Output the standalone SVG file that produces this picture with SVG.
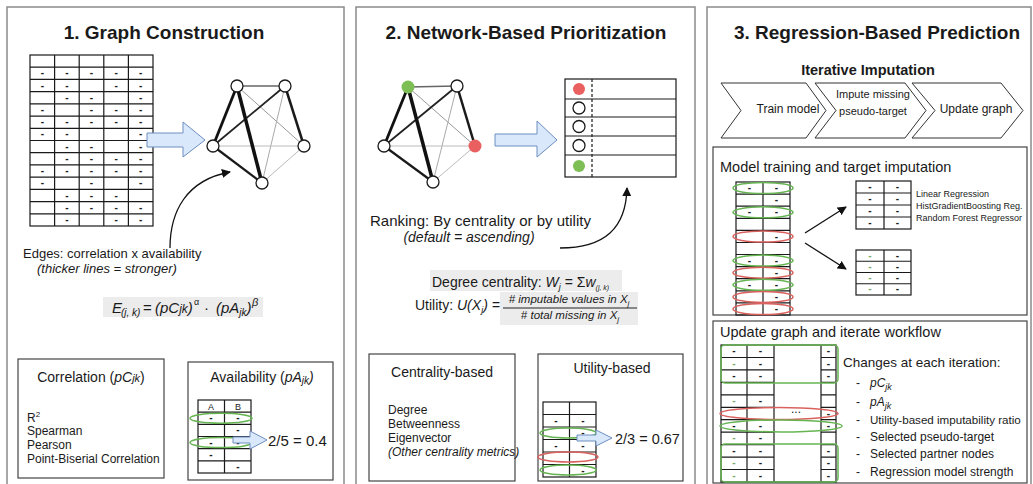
<svg xmlns="http://www.w3.org/2000/svg" width="1033" height="484" viewBox="0 0 1033 484">
<defs>
<style>
text{font-family:"Liberation Sans",Arial,Helvetica,sans-serif;fill:#1a1a1a}
.ttl{font-size:19px;font-weight:bold;text-anchor:middle}
.d{font-size:10px;font-weight:bold;text-anchor:middle}
.dg{font-size:10px;font-weight:bold;text-anchor:middle;fill:#7aaa6a}
.i{font-style:italic}
.tbl{fill:none;stroke:#1a1a1a;stroke-width:1.2}
.node{fill:#fff;stroke:#1a1a1a;stroke-width:1.3}
.frame{fill:none;stroke:#8a8a8a;stroke-width:1.5}
.box{fill:none;stroke:#444;stroke-width:1.2}
.blk{fill:#dae8fc;stroke:#6c8ebf;stroke-width:1}
.eg{fill:none;stroke:#66b552;stroke-width:1.5}
.er{fill:none;stroke:#d9625f;stroke-width:1.5}
.bg{fill:#ececec}
.cur{fill:none;stroke:#111;stroke-width:1.3}
.chev{fill:#fff;stroke:#333;stroke-width:1}
</style>
<marker id="ah" viewBox="0 0 10 10" refX="9" refY="5" markerWidth="9" markerHeight="9" markerUnits="userSpaceOnUse" orient="auto">
<path d="M0,0 L10,5 L0,10 z" fill="#111"/>
</marker>
</defs>
<rect width="1033" height="484" fill="#fff"/>

<!-- Panel 1 -->
<g id="panel1">
<rect class="frame" x="7" y="7" width="337" height="490"/>
<text class="ttl" x="164" y="39">1. Graph Construction</text>

<g id="p1-data-table">
<rect class="tbl" x="30" y="55" width="123" height="171"/>
<path class="tbl" d="M54.6,55V226M79.2,55V226M103.8,55V226M128.4,55V226M30,67.2H153M30,79.4H153M30,91.6H153M30,103.9H153M30,116.1H153M30,128.3H153M30,140.5H153M30,152.7H153M30,164.9H153M30,177.1H153M30,189.4H153M30,201.6H153M30,213.8H153"/>
<text class="d" x="42.3 66.9 91.5 116.1 140.7" y="76.3">-----</text>
<text class="d" x="42.3 66.9 116.1 140.7" y="88.5">----</text>
<text class="d" x="66.9 91.5 140.7" y="100.7">---</text>
<text class="d" x="42.3 91.5 116.1 140.7" y="113">----</text>
<text class="d" x="42.3 66.9 91.5 116.1 140.7" y="125.2">-----</text>
<text class="d" x="42.3 66.9 140.7" y="137.4">---</text>
<text class="d" x="66.9 91.5 140.7" y="149.6">---</text>
<text class="d" x="66.9 91.5 116.1 140.7" y="161.8">----</text>
<text class="d" x="42.3 66.9 91.5 116.1 140.7" y="174">-----</text>
<text class="d" x="42.3 91.5 140.7" y="186.3">---</text>
<text class="d" x="66.9 91.5 116.1" y="198.5">---</text>
<text class="d" x="66.9 91.5 116.1 140.7" y="210.7">----</text>
<text class="d" x="66.9 116.1 140.7" y="222.9">---</text>
</g>

<g id="p1-graph-edges">
<line x1="237" y1="86" x2="285" y2="86" stroke="#666" stroke-width="1.6"/>
<line x1="237" y1="86" x2="304" y2="146" stroke="#999" stroke-width="1"/>
<line x1="285" y1="86" x2="262" y2="183" stroke="#aaa" stroke-width="1"/>
<line x1="213" y1="146" x2="304" y2="146" stroke="#bbb" stroke-width="1"/>
<line x1="262" y1="183" x2="304" y2="146" stroke="#bbb" stroke-width="1"/>
<line x1="285" y1="86" x2="213" y2="146" stroke="#222" stroke-width="1.8"/>
<line x1="285" y1="86" x2="304" y2="146" stroke="#1a1a1a" stroke-width="2.5"/>
<line x1="213" y1="146" x2="262" y2="183" stroke="#1a1a1a" stroke-width="2.2"/>
<line x1="237" y1="86" x2="213" y2="146" stroke="#111" stroke-width="2.8"/>
<line x1="237" y1="86" x2="262" y2="183" stroke="#111" stroke-width="3.5"/>
</g>
<g id="p1-n1"><circle class="node" cx="237" cy="86" r="6"/></g>
<g id="p1-n2"><circle class="node" cx="285" cy="86" r="6"/></g>
<g id="p1-n3"><circle class="node" cx="213" cy="146" r="6"/></g>
<g id="p1-n4"><circle class="node" cx="304" cy="146" r="6"/></g>
<g id="p1-n5"><circle class="node" cx="262" cy="183" r="6"/></g>

<g id="p1-edges-text">
<text x="23" y="258" font-size="13">Edges: correlation x availability</text>
<text class="i" x="37" y="273" font-size="13">(thicker lines = stronger)</text>
</g>

<g id="p1-formula">
<rect class="bg" x="103" y="297" width="160" height="20"/>
<text class="i" x="112" y="313" font-size="15">E</text>
<text class="i" x="121" y="316" font-size="10">(j, k)</text>
<text x="143" y="313" font-size="15">=</text>
<text class="i" x="155" y="313" font-size="15">(pC<tspan font-size="12">jk</tspan>)</text>
<text x="194" y="305" font-size="9" fill="#888">α</text>
<text x="204" y="313" font-size="15">·</text>
<text class="i" x="216" y="313" font-size="15">(pA<tspan font-size="10" dy="3">jk</tspan><tspan dy="-3">)</tspan></text>
<text class="i" x="252" y="306" font-size="11">β</text>
</g>

<g id="p1-correlation">
<rect class="box" x="18" y="359" width="146" height="119"/>
<text x="91" y="382" font-size="14" text-anchor="middle">Correlation (<tspan class="i">pC</tspan><tspan class="i" font-size="11">jk</tspan>)</text>
<text x="27" y="422" font-size="12">R<tspan font-size="8" dy="-5">2</tspan></text>
<text x="27" y="435" font-size="12">Spearman</text>
<text x="27" y="449" font-size="12">Pearson</text>
<text x="27" y="463" font-size="12">Point-Biserial Correlation</text>
</g>

<g id="p1-availability">
<rect class="box" x="188" y="362" width="145" height="118"/>
<text x="262" y="382" font-size="14" text-anchor="middle">Availability (<tspan class="i">pA</tspan><tspan class="i" font-size="10" dy="2">jk</tspan><tspan class="i" dy="-2">)</tspan></text>
<rect class="tbl" x="198" y="400" width="53" height="73"/>
<path class="tbl" d="M224.5,400V473M198,412.2H251M198,424.3H251M198,436.5H251M198,448.7H251M198,460.8H251"/>
<text x="211" y="409.5" font-size="9" text-anchor="middle">A</text>
<text x="238" y="409.5" font-size="9" text-anchor="middle">B</text>
<text class="d" x="211 238" y="421.3">--</text>
<text class="d" x="238" y="433.4">-</text>
<text class="d" x="211 238" y="445.6">--</text>
<text class="d" x="211" y="457.8">-</text>
<text class="d" x="238" y="469.9">-</text>
<ellipse class="eg" cx="221" cy="418.3" rx="31" ry="5"/>
<ellipse class="eg" cx="221" cy="442.6" rx="31" ry="5"/>
<text x="268" y="446" font-size="15">2/5 = 0.4</text>
</g>
</g>

<!-- Panel 2 -->
<g id="panel2">
<rect class="frame" x="356" y="7" width="339" height="490"/>
<text class="ttl" x="526" y="39">2. Network-Based Prioritization</text>

<g id="p2-graph-edges">
<line x1="408" y1="87" x2="457" y2="86" stroke="#666" stroke-width="1.6"/>
<line x1="408" y1="87" x2="475" y2="146" stroke="#999" stroke-width="1"/>
<line x1="457" y1="86" x2="433" y2="182" stroke="#aaa" stroke-width="1"/>
<line x1="384" y1="146" x2="475" y2="146" stroke="#bbb" stroke-width="1"/>
<line x1="433" y1="182" x2="475" y2="146" stroke="#bbb" stroke-width="1"/>
<line x1="457" y1="86" x2="384" y2="146" stroke="#222" stroke-width="1.8"/>
<line x1="457" y1="86" x2="475" y2="146" stroke="#1a1a1a" stroke-width="2.5"/>
<line x1="384" y1="146" x2="433" y2="182" stroke="#1a1a1a" stroke-width="2.2"/>
<line x1="408" y1="87" x2="384" y2="146" stroke="#111" stroke-width="2.8"/>
<line x1="408" y1="87" x2="433" y2="182" stroke="#111" stroke-width="3.5"/>
</g>
<g id="p2-n1"><circle cx="408" cy="87" r="6.5" fill="#7dbf55"/></g>
<g id="p2-n2"><circle class="node" cx="457" cy="86" r="6"/></g>
<g id="p2-n3"><circle class="node" cx="384" cy="146" r="6"/></g>
<g id="p2-n4"><circle cx="475" cy="146" r="6.5" fill="#ea5f5f"/></g>
<g id="p2-n5"><circle class="node" cx="433" cy="182" r="6"/></g>

<g id="p2-ranking-list">
<rect class="tbl" x="565" y="79" width="111" height="98"/>
<path class="tbl" d="M565,99H676M565,117H676M565,136H676M565,155H676"/>
<line x1="592" y1="79" x2="592" y2="177" stroke="#1a1a1a" stroke-width="1.2" stroke-dasharray="3,2"/>
<circle cx="579" cy="89" r="6" fill="#ea5f5f"/>
<circle class="node" cx="579" cy="108" r="6"/>
<circle class="node" cx="579" cy="126.5" r="6"/>
<circle class="node" cx="579" cy="145.5" r="6"/>
<circle cx="579" cy="166" r="6" fill="#7dbf55"/>
</g>

<g id="p2-ranking-text">
<text x="370" y="226" font-size="15">Ranking: By centrality or by utility</text>
<text class="i" x="469" y="242" font-size="14" text-anchor="middle">(default = ascending)</text>
</g>

<g id="p2-formulas">
<rect class="bg" x="430" y="270" width="192" height="21"/>
<text x="432" y="287" font-size="14">Degree centrality: <tspan class="i">W</tspan><tspan class="i" font-size="9" dy="3">j</tspan><tspan dy="-3"> = Σ</tspan><tspan class="i">w</tspan><tspan class="i" font-size="7" dy="3">(j, k)</tspan></text>
<rect class="bg" x="500" y="292" width="138" height="33"/>
<text x="415" y="310" font-size="14">Utility: <tspan class="i">U(X</tspan><tspan class="i" font-size="9" dy="3">j</tspan><tspan class="i" dy="-3">) =</tspan></text>
<text class="i" x="569" y="303" font-size="11.5" text-anchor="middle"># imputable values in X<tspan font-size="8" dy="3">j</tspan></text>
<line x1="503" y1="308" x2="637" y2="308" stroke="#222" stroke-width="1"/>
<text class="i" x="570" y="319" font-size="11.5" text-anchor="middle"># total missing in X<tspan font-size="8" dy="3">j</tspan></text>
</g>

<g id="p2-centrality">
<rect class="box" x="369" y="354" width="146" height="127"/>
<text x="442" y="377" font-size="14" text-anchor="middle">Centrality-based</text>
<text x="388" y="414" font-size="12">Degree</text>
<text x="388" y="428" font-size="12">Betweenness</text>
<text x="388" y="442" font-size="12">Eigenvector</text>
<text class="i" x="388" y="456" font-size="12">(Other centrality metrics)</text>
</g>

<g id="p2-utility">
<rect class="box" x="538" y="354" width="145" height="127"/>
<text x="612" y="373" font-size="14" text-anchor="middle">Utility-based</text>
<rect class="tbl" x="543" y="402" width="53" height="75"/>
<path class="tbl" d="M569.5,402V477M543,414.5H596M543,427H596M543,439.5H596M543,452H596M543,464.5H596"/>
<text class="d" x="556 583" y="423.8">--</text>
<text class="d" x="583" y="436.3">-</text>
<text class="d" x="556 583" y="448.8">--</text>
<text class="d" x="583" y="473.8">-</text>
<ellipse class="eg" cx="568" cy="433" rx="28" ry="5"/>
<ellipse class="er" cx="568" cy="457" rx="30" ry="5"/>
<ellipse class="eg" cx="568" cy="470" rx="28" ry="5"/>
<text x="615" y="444" font-size="14.5">2/3 = 0.67</text>
</g>
</g>

<!-- Panel 3 -->
<g id="panel3">
<rect class="frame" x="707" y="7" width="324" height="490"/>
<text class="ttl" x="877" y="39">3. Regression-Based Prediction</text>
<text x="868" y="75" font-size="14.5" font-weight="bold" text-anchor="middle">Iterative Imputation</text>

<g id="p3-step-train">
<polygon class="chev" points="721,83 806,83 826,110.5 806,138 721,138 741,110.5"/>
<text x="788" y="113" font-size="12" text-anchor="middle">Train model</text>
</g>
<g id="p3-step-impute">
<polygon class="chev" points="815,83 905,83 926,110.5 905,138 815,138 836,110.5"/>
<text x="873" y="98" font-size="11" text-anchor="middle">Impute missing</text>
<text x="873" y="115" font-size="11" text-anchor="middle">pseudo-target</text>
</g>
<g id="p3-step-update">
<polygon class="chev" points="912,83 1001,83 1023,110.5 1001,138 912,138 935,110.5"/>
<text x="976" y="113" font-size="12" text-anchor="middle">Update graph</text>
</g>

<g id="p3-model-training">
<rect class="box" x="713" y="147" width="314" height="168"/>
<text x="720" y="172" font-size="14.5">Model training and target imputation</text>
<rect class="tbl" x="736" y="182" width="54" height="133"/>
<path class="tbl" d="M763,182V315M736,194.1H790M736,206.2H790M736,218.3H790M736,230.4H790M736,242.5H790M736,254.5H790M736,266.6H790M736,278.7H790M736,290.8H790M736,302.9H790"/>
<text class="d" x="749.5 776.5" y="191">--</text>
<text class="d" x="776.5" y="203.2">-</text>
<text class="d" x="749.5 776.5" y="215.3">--</text>
<text class="d" x="776.5" y="239.5">-</text>
<text class="d" x="749.5 776.5" y="263.6">--</text>
<text class="d" x="776.5" y="275.7">-</text>
<text class="d" x="749.5 776.5" y="287.8">--</text>
<text class="d" x="776.5" y="299.9">-</text>
<text class="d" x="776.5" y="312">-</text>
<ellipse class="eg" cx="763" cy="188" rx="30" ry="5.5"/>
<ellipse class="eg" cx="763" cy="212.3" rx="30" ry="5.5"/>
<ellipse class="er" cx="763" cy="236.5" rx="30" ry="5.5"/>
<ellipse class="eg" cx="763" cy="260.6" rx="30" ry="5.5"/>
<ellipse class="er" cx="763" cy="272.7" rx="30" ry="5.5"/>
<ellipse class="eg" cx="763" cy="284.8" rx="30" ry="5.5"/>
<ellipse class="er" cx="763" cy="296.9" rx="30" ry="5.5"/>
<ellipse class="er" cx="763" cy="309" rx="30" ry="5.5"/>

<rect class="tbl" x="856" y="181" width="55" height="48"/>
<path class="tbl" d="M884,181V229M856,193H911M856,205H911M856,217H911"/>
<text class="d" x="870 897.5" y="190">--</text>
<text class="d" x="870 897.5" y="202">--</text>
<text class="d" x="870 897.5" y="214">--</text>
<text class="d" x="870 897.5" y="226">--</text>
<text x="916" y="197" font-size="9">Linear Regression</text>
<text x="916" y="209" font-size="9">HistGradientBoosting Reg.</text>
<text x="916" y="221" font-size="9">Random Forest Regressor</text>

<rect class="tbl" x="856" y="250" width="55" height="45"/>
<path class="tbl" d="M884,250V295M856,261.25H911M856,272.5H911M856,283.75H911"/>
<text class="dg" x="870" y="258.6">-</text>
<text class="dg" x="870" y="269.9">-</text>
<text class="dg" x="870" y="281.1">-</text>
<text class="dg" x="870" y="292.4">-</text>
<text class="d" x="897.5" y="258.6">-</text>
<text class="d" x="897.5" y="269.9">-</text>
<text class="d" x="897.5" y="281.1">-</text>
<text class="d" x="897.5" y="292.4">-</text>
</g>

<g id="p3-update-graph">
<rect class="box" x="713" y="321" width="314" height="162"/>
<text x="720" y="337" font-size="14.5">Update graph and iterate workflow</text>
<rect class="tbl" x="721" y="345" width="115" height="137"/>
<path class="tbl" d="M747,345V482M774,345V482M821,345V482M721,357.5H774M721,369.9H774M721,382.4H774M721,394.8H774M721,407.3H774M721,419.7H774M721,432.2H774M721,444.6H774M721,457.1H774M721,469.5H774M821,357.5H836M821,369.9H836M821,382.4H836M821,394.8H836M821,407.3H836M821,419.7H836M821,432.2H836M821,444.6H836M821,457.1H836M821,469.5H836"/>
<text class="d" x="734 760.5 828.5" y="354.2">---</text>
<text class="dg" x="734" y="366.7">-</text>
<text class="d" x="760.5 828.5" y="366.7">--</text>
<text class="d" x="734 760.5 828.5" y="379.1">---</text>
<text class="dg" x="734" y="404">-</text>
<text class="d" x="760.5" y="404">-</text>
<text class="d" x="828.5" y="416.5">-</text>
<text x="796" y="413" font-size="12" text-anchor="middle" fill="#444">...</text>
<text class="d" x="734 760.5 828.5" y="428.9">---</text>
<text class="dg" x="734" y="441.4">-</text>
<text class="d" x="760.5" y="441.4">-</text>
<text class="d" x="734 760.5 828.5" y="453.8">---</text>
<text class="dg" x="734" y="466.3">-</text>
<text class="d" x="760.5 828.5" y="466.3">--</text>
<text class="dg" x="734" y="478.8">-</text>
<text class="d" x="760.5 828.5" y="478.8">--</text>
<rect class="eg" x="721" y="345" width="117" height="38" rx="4"/>
<rect class="eg" x="721" y="444" width="117" height="38" rx="4"/>
<ellipse class="er" cx="779" cy="413.5" rx="59" ry="6"/>
<ellipse class="eg" cx="781" cy="425.9" rx="61" ry="6"/>

<text x="843" y="367" font-size="13.5">Changes at each iteration:</text>
<text x="856" y="387" font-size="12">-</text>
<text class="i" x="870" y="387" font-size="12">pC<tspan font-size="9" dy="3">jk</tspan></text>
<text x="856" y="406" font-size="12">-</text>
<text class="i" x="870" y="406" font-size="12">pA<tspan font-size="9" dy="3">jk</tspan></text>
<text x="856" y="424" font-size="12">-</text>
<text x="870" y="424" font-size="11.6">Utility-based imputability ratio</text>
<text x="856" y="441" font-size="12">-</text>
<text x="870" y="441" font-size="12">Selected pseudo-target</text>
<text x="856" y="458" font-size="12">-</text>
<text x="870" y="458" font-size="12">Selected partner nodes</text>
<text x="856" y="476" font-size="12">-</text>
<text x="870" y="476" font-size="12">Regression model strength</text>
</g>
</g>

<!-- Connectors -->
<g id="connectors">
<polygon class="blk" points="147,133 183,133 183,122 205,140 183,157 183,147 147,147"/>
<path class="cur" d="M170,248 C170,212 186,180 230,172" marker-end="url(#ah)"/>
<polygon class="blk" points="233,437 250,437 250,431 267,440 250,449 250,443 233,443"/>
<polygon class="blk" points="495,134 537,134 537,121 557,140 537,157 537,146 495,146"/>
<path class="cur" d="M560,248 C605,248 626,228 627,188" marker-end="url(#ah)"/>
<polygon class="blk" points="577,435 596,435 596,430 612,438 596,446 596,441 577,441"/>
<line class="cur" x1="805" y1="233" x2="846" y2="207" marker-end="url(#ah)"/>
<line class="cur" x1="805" y1="243" x2="846" y2="269" marker-end="url(#ah)"/>
</g>
</svg>
